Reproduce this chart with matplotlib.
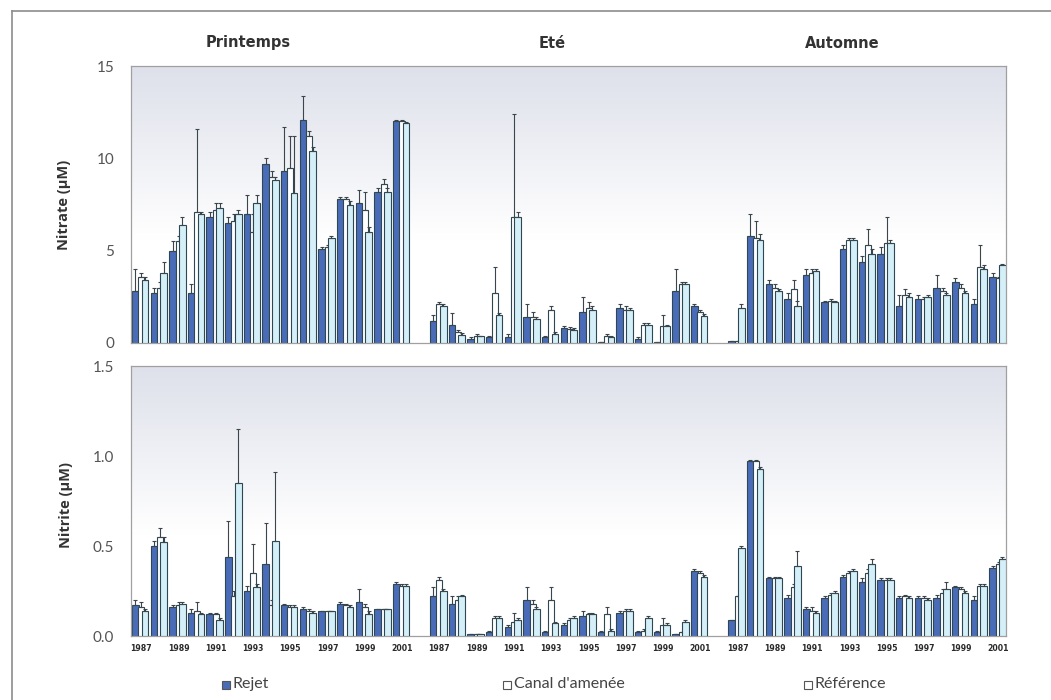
import numpy as np
import matplotlib
matplotlib.use("Agg")
import matplotlib.pyplot as plt
from matplotlib.patches import Rectangle
from matplotlib.lines import Line2D

seasons = ["Printemps", "Eté", "Automne"]
years = list(range(1987, 2002))
year_labels = ["1987", "1989", "1991", "1993", "1995", "1997", "1999", "2001"]
series_names = ["Rejet", "Canal d'amenée", "Référence"]

# nitrate (µM), 15 years per season: printemps, été, automne
no3_rejet = [2.8, 2.7, 5.0, 2.7, 6.8, 6.5, 7.0, 9.7, 9.3, 12.1, 5.1, 7.8, 7.6, 8.2, 12.0,
             1.2, 1.0, 0.2, 0.3, 0.3, 1.4, 0.3, 0.8, 1.7, 0.05, 1.9, 0.2, 0.05, 2.8, 2.0,
             0.1, 5.8, 3.2, 2.4, 3.7, 2.2, 5.1, 4.4, 4.8, 2.0, 2.4, 3.0, 3.3, 2.1, 3.6]
no3_canal = [3.6, 3.0, 5.5, 7.1, 7.2, 6.6, 6.0, 9.0, 9.5, 11.2, 5.2, 7.8, 7.2, 8.6, 12.0,
             2.1, 0.6, 0.4, 2.7, 6.8, 1.4, 1.8, 0.75, 1.9, 0.4, 1.8, 1.0, 0.9, 3.2, 1.7,
             0.1, 5.7, 3.0, 2.9, 3.8, 2.3, 5.6, 5.3, 5.4, 2.6, 2.4, 2.8, 3.0, 4.1, 3.5]
no3_ref = [3.4, 3.8, 6.4, 7.0, 7.3, 7.0, 7.6, 8.8, 8.1, 10.4, 5.7, 7.5, 6.0, 8.2, 11.9,
           2.0, 0.45, 0.4, 1.5, 6.8, 1.3, 0.5, 0.7, 1.8, 0.3, 1.8, 1.0, 0.9, 3.2, 1.45,
           1.9, 5.6, 2.8, 2.0, 3.9, 2.2, 5.6, 4.8, 5.4, 2.5, 2.5, 2.6, 2.7, 4.0, 4.2]
no3_rejet_err = [1.2, 0.3, 0.5, 0.5, 0.3, 0.3, 1.0, 0.3, 2.4, 1.3, 0.1, 0.1, 0.7, 0.2, 0.1,
                 0.3, 0.6, 0.1, 0.1, 0.2, 0.7, 0.1, 0.1, 0.8, 0.0, 0.2, 0.1, 0.0, 1.2, 0.1,
                 0.0, 1.2, 0.2, 0.3, 0.3, 0.1, 0.2, 0.3, 0.4, 0.6, 0.2, 0.7, 0.2, 0.3, 0.2]
no3_canal_err = [0.2, 0.3, 0.3, 4.5, 0.4, 0.4, 1.0, 0.3, 1.7, 0.3, 0.1, 0.1, 1.0, 0.3, 0.05,
                 0.1, 0.1, 0.1, 1.4, 5.6, 0.3, 0.2, 0.1, 0.3, 0.1, 0.2, 0.1, 0.6, 0.1, 0.1,
                 0.0, 0.9, 0.2, 0.5, 0.2, 0.1, 0.1, 0.9, 1.4, 0.3, 0.1, 0.2, 0.2, 1.2, 0.1]
no3_ref_err = [0.2, 0.6, 0.4, 0.1, 0.3, 0.2, 0.4, 0.2, 3.1, 0.2, 0.1, 0.2, 0.3, 0.2, 0.05,
               0.1, 0.1, 0.0, 0.1, 0.3, 0.1, 0.1, 0.1, 0.2, 0.1, 0.1, 0.1, 0.1, 0.1, 0.1,
               0.2, 0.3, 0.1, 0.3, 0.1, 0.1, 0.1, 0.3, 0.2, 0.2, 0.1, 0.1, 0.1, 0.2, 0.1]

# nitrite (µM)
no2_rejet = [0.17, 0.50, 0.16, 0.13, 0.12, 0.44, 0.25, 0.40, 0.17, 0.15, 0.14, 0.18, 0.19, 0.15, 0.29,
             0.22, 0.18, 0.01, 0.02, 0.05, 0.20, 0.02, 0.06, 0.11, 0.02, 0.13, 0.02, 0.02, 0.01, 0.36,
             0.09, 0.97, 0.32, 0.21, 0.15, 0.21, 0.33, 0.30, 0.31, 0.21, 0.21, 0.21, 0.27, 0.20, 0.38]
no2_canal = [0.16, 0.55, 0.17, 0.14, 0.12, 0.22, 0.35, 0.17, 0.16, 0.14, 0.14, 0.17, 0.16, 0.15, 0.28,
             0.31, 0.20, 0.01, 0.10, 0.08, 0.18, 0.20, 0.09, 0.12, 0.12, 0.14, 0.03, 0.06, 0.02, 0.35,
             0.22, 0.97, 0.32, 0.27, 0.14, 0.23, 0.35, 0.35, 0.31, 0.22, 0.21, 0.24, 0.26, 0.28, 0.40]
no2_ref = [0.14, 0.52, 0.18, 0.12, 0.09, 0.85, 0.27, 0.53, 0.16, 0.13, 0.14, 0.16, 0.12, 0.15, 0.28,
           0.25, 0.22, 0.01, 0.10, 0.09, 0.15, 0.07, 0.10, 0.12, 0.03, 0.14, 0.10, 0.06, 0.08, 0.33,
           0.49, 0.93, 0.32, 0.39, 0.13, 0.24, 0.36, 0.40, 0.31, 0.21, 0.20, 0.26, 0.24, 0.28, 0.43]
no2_rejet_err = [0.03, 0.03, 0.01, 0.02, 0.01, 0.20, 0.03, 0.23, 0.01, 0.01, 0.00, 0.01, 0.07, 0.00, 0.01,
                 0.05, 0.04, 0.00, 0.01, 0.01, 0.07, 0.01, 0.01, 0.03, 0.01, 0.01, 0.01, 0.01, 0.00, 0.01,
                 0.00, 0.01, 0.01, 0.02, 0.01, 0.01, 0.01, 0.02, 0.01, 0.01, 0.01, 0.02, 0.01, 0.02, 0.01]
no2_canal_err = [0.03, 0.05, 0.02, 0.05, 0.01, 0.03, 0.16, 0.03, 0.01, 0.01, 0.00, 0.01, 0.02, 0.00, 0.01,
                 0.02, 0.02, 0.00, 0.01, 0.05, 0.02, 0.07, 0.01, 0.01, 0.04, 0.01, 0.01, 0.04, 0.00, 0.01,
                 0.00, 0.01, 0.01, 0.02, 0.02, 0.01, 0.01, 0.02, 0.01, 0.01, 0.01, 0.02, 0.01, 0.01, 0.01]
no2_ref_err = [0.01, 0.03, 0.01, 0.01, 0.01, 0.30, 0.02, 0.38, 0.01, 0.01, 0.00, 0.01, 0.02, 0.00, 0.01,
               0.01, 0.01, 0.00, 0.01, 0.01, 0.01, 0.01, 0.01, 0.01, 0.01, 0.01, 0.01, 0.01, 0.01, 0.01,
               0.01, 0.01, 0.01, 0.08, 0.01, 0.01, 0.01, 0.03, 0.01, 0.01, 0.01, 0.04, 0.01, 0.01, 0.01]

colors = ["#4a6cb8", "#ffffff", "#d4eff7"]
edge = "#2e4853"
offsets = [-0.32, 0.0, 0.2]
widths = [0.36, 0.32, 0.36]

n_years = len(years)
gap = 1
x = np.concatenate([s * (n_years + gap) + np.arange(n_years) for s in range(len(seasons))])

fig = plt.figure(figsize=(10.51, 7.0), dpi=100)
W, H = 1051, 700


def fbox(x0, y0, x1, y1):
    return [x0 / W, 1 - y1 / H, (x1 - x0) / W, (y1 - y0) / H]


def gradient_bg(ax):
    # grey-blue at the top fading to white lower down
    grad = np.linspace(0, 1, 256).reshape(-1, 1)
    top = np.array([0.87, 0.88, 0.92])
    bot = np.array([1.0, 1.0, 1.0])
    t = np.clip(grad * 1.6, 0, 1)
    img = top + (bot - top) * t
    img = np.repeat(img[:, None, :], 2, axis=1)
    ax.imshow(img, extent=[0, 1, 0, 1], transform=ax.transAxes, aspect="auto",
              zorder=0, origin="upper")


def draw_panel(ax, data, errs, ymax, yticks, ytick_fmt):
    gradient_bg(ax)
    for k in range(3):
        vals = np.array(data[k])
        ax.bar(x + offsets[k], vals, width=widths[k], color=colors[k],
               edgecolor=edge, linewidth=0.8, zorder=2 + k)
        err = np.array(errs[k])
        ax.errorbar(x + offsets[k], vals, yerr=[np.zeros_like(err), err], fmt="none",
                    ecolor="#3a464c", elinewidth=0.8, capsize=1.5, capthick=0.8, zorder=2.5 + k)
    ax.set_xlim(-0.55, 46.4)
    ax.set_ylim(0, ymax)
    ax.set_yticks(yticks)
    ax.set_yticklabels([ytick_fmt.format(v) for v in yticks], fontsize=11,
                       color="#555555", family="Lato")
    ax.tick_params(axis="y", length=0, pad=12)
    for sp in ax.spines.values():
        sp.set_color("#a0a0a0")
        sp.set_linewidth(0.9)


ax1 = fig.add_axes(fbox(131, 66, 1006, 343))
draw_panel(ax1, [no3_rejet, no3_canal, no3_ref],
           [no3_rejet_err, no3_canal_err, no3_ref_err], 15, [0, 5, 10, 15], "{:g}")
ax1.set_xticks([])

ax2 = fig.add_axes(fbox(131, 366, 1006, 636))
draw_panel(ax2, [no2_rejet, no2_canal, no2_ref],
           [no2_rejet_err, no2_canal_err, no2_ref_err], 1.5, [0.0, 0.5, 1.0, 1.5], "{:.1f}")
tick_pos = []
tick_lab = []
for s in range(len(seasons)):
    for lab in year_labels:
        tick_pos.append(s * (n_years + gap) + years.index(int(lab)))
        tick_lab.append(lab)
ax2.set_xticks(tick_pos)
ax2.set_xticklabels(tick_lab, fontsize=5.6, fontweight="bold", color="#2a2a2a")
ax2.tick_params(axis="x", length=0, pad=6)

# season headers
header_x = [248, 552, 842]
for name, px in zip(seasons, header_x):
    fig.text(px / W, 1 - 43 / H, name, ha="center", va="center", fontsize=10.5,
             fontweight="bold", color="#333333")

fig.text(64 / W, 1 - 205 / H, "Nitrate (µM)", rotation=90, ha="center", va="center",
         fontsize=10.5, fontweight="bold", color="#333333", family="Open Sans")
fig.text(66 / W, 1 - 505 / H, "Nitrite (µM)", rotation=90, ha="center", va="center",
         fontsize=10.5, fontweight="bold", color="#333333", family="Open Sans")

# legend
leg_items = [(222, colors[0], "Rejet"), (503, "#ffffff", "Canal d'amenée"),
             (804, "#ffffff", "Référence")]
for px, fc, label in leg_items:
    fig.add_artist(Rectangle((px / W, 1 - 689 / H), 8 / W, 8 / H, transform=fig.transFigure,
                             facecolor=fc, edgecolor="#555555", linewidth=0.8))
    fig.text((px + 11) / W, 1 - 684 / H, label, ha="left", va="center", fontsize=11.5,
             color="#444444", family="Lato")

# outer frame
fig.add_artist(Line2D([12 / W, 12 / W], [0, 1 - 11 / H], transform=fig.transFigure,
                      color="#8c8c8c", linewidth=1.2))
fig.add_artist(Line2D([12 / W, 1], [1 - 11 / H, 1 - 11 / H], transform=fig.transFigure,
                      color="#8c8c8c", linewidth=1.2))

fig.savefig("out.png", dpi=100)
